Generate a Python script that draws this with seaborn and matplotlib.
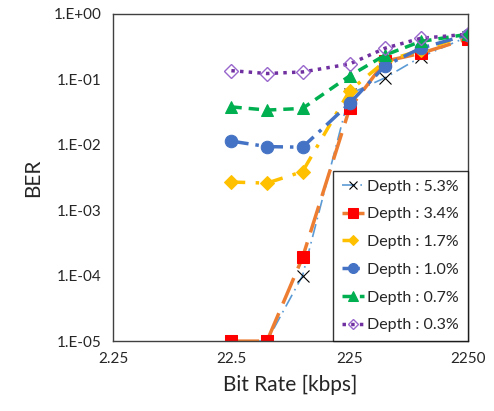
import numpy as np
import pandas as pd
import matplotlib
matplotlib.use('Agg')
import matplotlib.pyplot as plt
import matplotlib.ticker as mticker
import seaborn as sns

sns.set_style('white')
plt.rcParams['font.family'] = ['Lato', 'DejaVu Sans']

bit_rate = [22.5, 45, 90, 225, 450, 900, 2250]
labels = ['Depth : 5.3%', 'Depth : 3.4%', 'Depth : 1.7%',
          'Depth : 1.0%', 'Depth : 0.7%', 'Depth : 0.3%']
ber_53 = [1e-5, 1e-5, 1.0e-4, 0.06, 0.106, 0.22, 0.45]
ber_34 = [1e-5, 1e-5, 1.9e-4, 0.036, 0.19, 0.25, 0.42]
ber_17 = [0.0027, 0.0026, 0.0039, 0.067, 0.19, 0.28, 0.48]
ber_10 = [0.0114, 0.0094, 0.0092, 0.043, 0.162, 0.30, 0.48]
ber_07 = [0.038, 0.034, 0.036, 0.113, 0.236, 0.38, 0.49]
ber_03 = [0.136, 0.123, 0.13, 0.172, 0.30, 0.425, 0.49]

series = [ber_53, ber_34, ber_17, ber_10, ber_07, ber_03]
styles = [
    dict(color='#5B9BD5', lw=1.2, ls=(0, (8, 3, 1, 3)), marker='x', ms=8, mfc='k', mec='k', mew=0.8),
    dict(color='#ED7D31', lw=2.5, ls=(0, (8, 3)), marker='s', ms=9, mfc='#FF0000', mec='#FF0000'),
    dict(color='#FFC000', lw=2.5, ls=(0, (4, 3, 1, 3)), marker='D', ms=7, mfc='#FFC000', mec='#FFC000'),
    dict(color='#4472C4', lw=2.5, ls=(0, (5, 2, 1, 2)), marker='o', ms=9, mfc='#4472C4', mec='#4472C4'),
    dict(color='#00B050', lw=2.5, ls=(0, (3, 2)), marker='^', ms=9, mfc='#00B050', mec='#00B050'),
    dict(color='#7030A0', lw=2.5, ls=(0, (1, 1.5)), marker='D', ms=7, mfc='none', mec='#9966CC', mew=1),
]

fig = plt.figure(figsize=(4.94, 4.11), dpi=100)
ax = fig.add_axes([0.229, 0.170, 0.718, 0.796])

for lab, vals, st in zip(labels, series, styles):
    df = pd.DataFrame({'x': bit_rate, 'y': vals})
    st = dict(st)
    color = st.pop('color')
    sns.lineplot(data=df, x='x', y='y', ax=ax, color=color, label=lab, **st)

ax.set_xscale('log')
ax.set_yscale('log')
ax.set_xlim(2.25, 2250)
ax.set_ylim(1e-5, 1)
ax.set_xticks([2.25, 22.5, 225, 2250])
ax.xaxis.set_major_formatter(mticker.FixedFormatter(['2.25', '22.5', '225', '2250']))
ax.xaxis.set_minor_locator(mticker.NullLocator())
ax.set_yticks([1e-5, 1e-4, 1e-3, 1e-2, 1e-1, 1])
ax.set_yticklabels(['1.E-05', '1.E-04', '1.E-03', '1.E-02', '1.E-01', '1.E+00'])
ax.yaxis.set_minor_locator(mticker.NullLocator())
ax.tick_params(labelsize=11, length=0, pad=8)
for sp in ax.spines.values():
    sp.set_color('#404040')
    sp.set_linewidth(1)

ax.set_xlabel('Bit Rate [kbps]', fontsize=15, labelpad=6)
ax.set_ylabel('BER', fontsize=15, labelpad=8)

leg = ax.legend(loc='lower right', fontsize=11.5, frameon=True, fancybox=False,
                borderaxespad=0, handlelength=1.4, labelspacing=0.85,
                handletextpad=0.2, borderpad=0.55, markerscale=0.8)
leg.get_frame().set_edgecolor('black')
leg.get_frame().set_linewidth(1)

fig.savefig('out.png', dpi=100)
